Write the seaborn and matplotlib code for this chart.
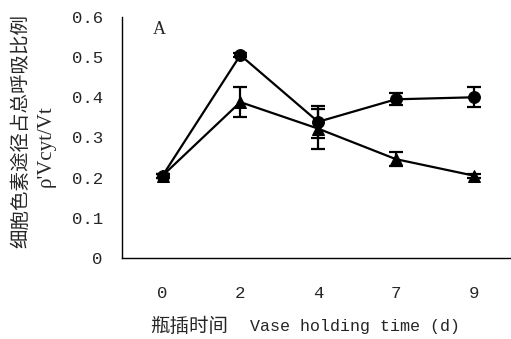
import numpy as np
import pandas as pd
import matplotlib
matplotlib.use("Agg")
import matplotlib.pyplot as plt
import seaborn as sns

#### data ####
days = ["0", "2", "4", "7", "9"]
circle_vals = [0.205, 0.505, 0.339, 0.395, 0.400]
circle_err = [0.005, 0.005, 0.040, 0.015, 0.025]
tri_vals = [0.205, 0.388, 0.322, 0.246, 0.205]
tri_err = [0.005, 0.037, 0.050, 0.017, 0.005]
y_ticks = [0, 0.1, 0.2, 0.3, 0.4, 0.5, 0.6]
y_tick_labels = ["0", "0.1", "0.2", "0.3", "0.4", "0.5", "0.6"]

sns.set_style("white")
plt.rcParams['font.family'] = ['Liberation Mono', 'Noto Sans CJK SC', 'DejaVu Sans']

df = pd.DataFrame({
    "pos": list(range(len(days))) * 2,
    "val": circle_vals + tri_vals,
    "series": ["c"] * len(days) + ["t"] * len(days),
})

fig = plt.figure(figsize=(5.11, 3.39), dpi=100)
ax = fig.add_axes([0.239, 0.239, 0.761, 0.711])

sns.lineplot(data=df, x="pos", y="val", hue="series", style="series",
             markers={"c": "o", "t": "^"}, dashes=False,
             palette={"c": "black", "t": "black"}, markersize=8.5,
             linewidth=1.6, markeredgecolor="black", legend=False, ax=ax)

pos = np.arange(len(days))
ax.errorbar(pos, circle_vals, yerr=circle_err, fmt="none", ecolor="black",
            elinewidth=1.6, capsize=5, capthick=1.6)
ax.errorbar(pos, tri_vals, yerr=tri_err, fmt="none", ecolor="black",
            elinewidth=1.6, capsize=5, capthick=1.6)

ax.set_xlim(-0.52, 4.48)
ax.set_ylim(0, 0.6)
ax.set_xticks(pos)
ax.set_xticklabels(days)
ax.set_yticks(y_ticks)
ax.set_yticklabels(y_tick_labels)
ax.set_xlabel("")
ax.set_ylabel("")
ax.tick_params(direction="in", length=4, color="black", labelsize=12.5)
ax.tick_params(axis="x", pad=20)
ax.tick_params(axis="y", pad=14)

for s in ["top", "right"]:
    ax.spines[s].set_visible(False)
for s in ["left", "bottom"]:
    ax.spines[s].set_color("black")
    ax.spines[s].set_linewidth(1.0)

ax.text(0.08, 0.95, "A", transform=ax.transAxes, fontsize=13, va="center",
        family=['Liberation Serif', 'DejaVu Sans'])

fig.text(0.447, 0.038, "瓶插时间", ha="right", va="center",
         fontsize=14, family=['Noto Sans CJK SC', 'DejaVu Sans'])
fig.text(0.489, 0.038, "Vase holding time (d)", ha="left", va="center",
         fontsize=12, family=['Liberation Mono', 'DejaVu Sans'])
fig.text(0.04, 0.614, "细胞色素途径占总呼吸比例", rotation=90, ha="center", va="center",
         fontsize=14, family=['Noto Sans CJK SC', 'DejaVu Sans'])
fig.text(0.09, 0.57, "ρ'Vcyt/Vt", rotation=90, ha="center", va="center",
         fontsize=15, family=['Liberation Serif', 'DejaVu Sans'])

fig.savefig("out.png", dpi=100)
